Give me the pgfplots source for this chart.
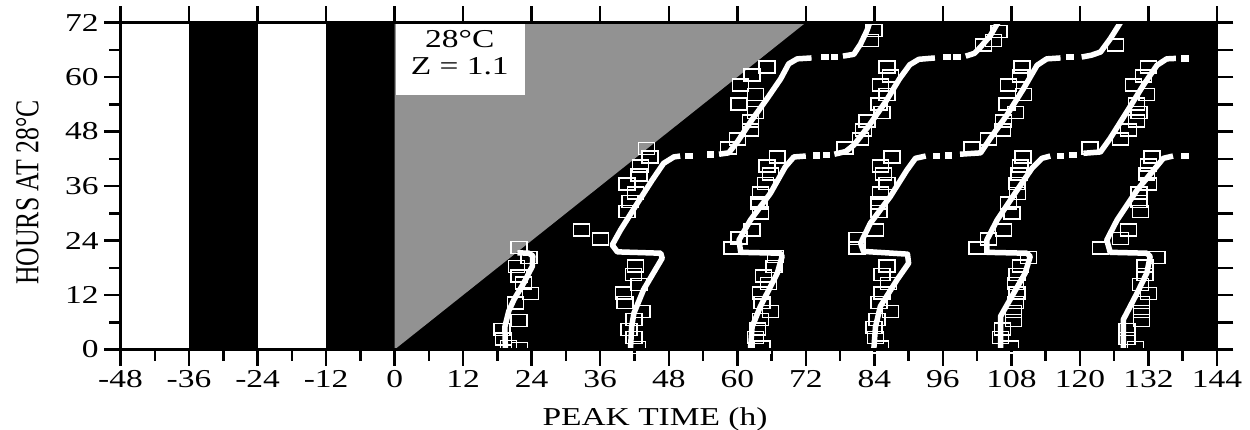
\documentclass[border=0pt]{standalone}
\usepackage{fontspec}
\setmainfont{Liberation Serif}
\usepackage{graphicx}
\usepackage{pgfplots}
\pgfplotsset{compat=1.18}
\definecolor{tri}{RGB}{146,146,146}
\pgfplotsset{
  obs/.style={only marks, mark=square, mark size=2.4pt, mark options={draw=white, line width=0.6pt, xscale=1.33}},
  mdl/.style={white, line width=2.2pt, line join=round, no markers},
  mdot/.style={only marks, mark=square*, mark size=1.1pt, mark options={white, xscale=1.2}},
}
\pgfplotstableread{
x y
21.8 22.5
23.5 20.3
21.35 18.3
21.8 16.2
22.6 14.6
23.8 12.3
21.2 10.2
21.8 6.4
18.8 4.4
19.1 2.3
21.9 0.2
19.9 0.7
44.1 44.3
44.7 42.4
43.05 40.4
42.8 38.4
40.7 36.4
42.2 34.5
41.2 32.6
40.7 30.4
32.7 26.3
36.05 24.3
42.2 18.4
41.8 16.5
42.8 14.3
40.1 12.4
40.3 10.4
43.3 8.4
41.9 6.6
41.0 4.4
41.9 2.6
42.5 0.4
67.0 42.4
65.2 40.4
65.8 38.6
64.9 36.6
64.05 34.5
63.8 32.3
64.05 30.1
62.6 26.3
60.3 24.5
59.1 22.3
66.7 20.5
66.4 18.3
64.6 16.2
65.5 14.5
64.05 12.4
64.35 10.4
65.8 8.4
64.05 6.6
63.5 4.5
63.2 2.6
64.35 0.6
87.1 42.4
85.05 40.4
85.6 38.6
86.2 36.6
85.05 34.5
84.8 32.3
84.8 30.4
84.2 26.3
81.0 24.4
81.0 22.3
86.2 18.4
85.3 16.5
86.5 14.5
85.3 12.4
84.8 10.4
86.8 8.4
84.5 6.6
83.9 4.8
84.2 2.6
85.05 0.6
110.0 42.4
109.55 40.4
109.3 38.6
109.0 36.6
109.1 34.4
107.5 32.3
108.1 30.1
106.65 26.3
104.0 24.3
102.0 22.3
111.0 20.3
109.55 18.4
109.0 16.5
108.7 14.5
109.0 12.4
108.7 10.4
108.4 8.4
108.4 6.4
106.4 4.5
106.1 2.6
107.8 0.6
132.6 42.4
132.0 40.6
131.7 38.6
132.0 36.4
130.3 34.5
130.3 32.6
130.6 30.4
128.5 26.3
127.1 24.4
123.6 22.3
133.5 20.3
131.4 18.4
131.4 16.5
130.6 14.3
132.0 12.3
130.8 10.4
130.8 8.4
130.8 6.4
128.2 4.4
128.2 2.4
129.7 0.4
65.2 62.2
62.6 60.4
60.55 58.2
63.2 56.1
60.3 54.1
63.2 52.2
62.3 50.3
62.3 48.3
60.0 46.3
58.5 44.4
86.2 62.2
86.8 60.2
85.05 58.2
86.2 56.1
84.8 54.1
85.3 52.2
82.7 50.3
82.1 48.3
81.6 46.3
78.9 44.4
109.85 62.2
109.55 60.2
107.5 58.2
110.1 56.1
107.2 54.1
108.7 52.2
106.65 50.3
106.4 48.3
104.0 46.3
101.1 44.4
132.0 62.2
131.1 60.2
129.4 58.2
131.7 56.1
129.9 54.1
130.3 52.2
129.9 50.3
128.5 48.3
127.1 46.3
121.8 44.4
83.9 70.2
83.3 68.0
105.8 70.0
104.9 68.0
103.1 67.0
126.2 67.1
}\obsdata
\pgfplotstableread{
x y
51.5 42.6
55.3 42.9
75.4 64.4
77.0 64.4
73.9 42.7
75.6 42.8
96.7 64.4
98.5 64.4
94.9 42.6
97.0 42.7
118.3 64.4
116.6 42.6
118.8 42.8
138.4 64.1
138.4 42.6
}\dotdata
\begin{document}
\begin{tikzpicture}
\useasboundingbox (-48.2pt,-31.8pt) rectangle (451.8pt,139.8pt);
\begin{axis}[name=main, at={(0pt,0pt)}, anchor=south west, scale only axis,
  width=438.6pt, height=130.8pt,
  xmin=-48, xmax=144, ymin=0, ymax=72,
  axis on top,
  axis line style={line width=1.1pt},
  every tick/.style={line width=1pt, black},
  tick align=outside,
  major tick length=6.5pt, minor tick length=4.5pt,
  xtick={-48,-36,...,144},
  xticklabels={-48,-36,-24,-12,0,12,24,36,48,60,72,84,96,108,120,132,144},
  minor xtick={-42,-30,...,138},
  ytick={0,12,...,72},
  yticklabels={0,12,24,36,48,60,72},
  minor ytick={6,18,...,66},
  xtick pos=left, ytick pos=left,
  tick label style={font=\fontsize{10.3}{12}\selectfont, xscale=1.3},
  xticklabel style={inner sep=1.5pt},
  yticklabel style={inner sep=1.5pt},
]
\fill[black] (axis cs:-36,0) rectangle (axis cs:-24,72);
\fill[black] (axis cs:-12,0) rectangle (axis cs:144,72);
\fill[tri] (axis cs:0,0) -- (axis cs:0,72) -- (axis cs:72,72) -- cycle;
\fill[white] (axis cs:0.2,56) rectangle (axis cs:22.75,72);
\node[font=\fontsize{10.3}{12}\selectfont, inner sep=0pt] at (axis cs:11.4,68.4) {\scalebox{1.3}[1]{28°C}};
\node[font=\fontsize{10.3}{12}\selectfont, inner sep=0pt] at (axis cs:11.4,62.4) {\scalebox{1.3}[1]{Z = 1.1}};
% model curves
\addplot[mdl] coordinates {(19.4,0) (19.3,5) (20.0,8.5) (20.9,11.0) (22.6,14.6) (24.1,18.3) (24.2,20.6) (23.5,21.2) (21.5,21.3)};
\addplot[mdl] coordinates {(41.3,0) (41.5,5) (41.9,8) (43.6,13.2) (46.0,18.3) (46.85,20.1) (46.6,21.2) (39.0,21.5) (38.1,23.0) (39.55,26.3) (42.5,32.2) (45.1,37.3) (47.1,41.0) (48.9,42.4) (50.0,42.6)};
\addplot[mdl] coordinates {(56.8,43.0) (58.5,43.3) (60.0,45.7) (62.3,50.1) (65.2,55.2) (67.6,59.6) (69.0,62.9) (70.5,64.0) (73.0,64.2)};
\addplot[mdl] coordinates {(78.5,64.6) (80.4,65.0) (81.6,67.3) (82.7,70.2) (83.2,72)};
\addplot[mdl] coordinates {(62.3,0) (62.6,5) (64.05,9.5) (67.0,16.8) (67.85,20.5) (67.55,21.2) (60.6,21.4) (60.3,24.1) (62.3,28.5) (65.8,34.4) (68.4,40.2) (69.9,42.4) (72.0,42.6)};
\addplot[mdl] coordinates {(77.0,43.0) (79.0,43.6) (80.4,45) (83.0,49.2) (86.0,54.6) (88.4,59.6) (90.2,62.7) (91.8,63.9) (94.6,64.2)};
\addplot[mdl] coordinates {(100.0,64.6) (101.5,65.2) (102.6,66.6) (104.3,69.1) (105.5,71.7) (105.7,72)};
\addplot[mdl] coordinates {(83.9,0) (84.2,5) (85.05,9.5) (88.0,15.4) (90.0,19.0) (89.8,21.0) (82.1,21.6) (81.6,23.4) (83.3,27.8) (86.8,33.7) (89.7,39.5) (91.2,42.1) (93.0,42.6)};
\addplot[mdl] coordinates {(99.0,43.0) (102.6,43.3) (104.3,46.5) (107.2,51.6) (110.1,57.4) (112.5,62.6) (114.2,64.0) (116.6,64.2)};
\addplot[mdl] coordinates {(120.3,64.4) (122.0,64.8) (123.6,65.5) (125.3,68.4) (127.1,72)};
\addplot[mdl] coordinates {(106.1,0) (106.1,7.3) (108.4,12.4) (110.4,16.8) (111.3,20.5) (110.7,21.2) (103.7,21.4) (103.7,24.1) (105.5,28.5) (109.0,35.1) (111.6,39.9) (113.35,42.1) (114.8,42.6)};
\addplot[mdl] coordinates {(120.6,43.2) (123.6,43.5) (125.3,46.5) (128.2,52.3) (131.1,58.2) (133.5,62.6) (135.2,64.0) (136.8,64.1)};
\addplot[mdl] coordinates {(127.6,0) (127.6,6.6) (130.0,12.4) (131.7,16.8) (132.3,20.5) (131.7,21.2) (125.3,21.4) (124.7,24.1) (126.5,28.5) (130.0,35.1) (132.9,39.5) (134.6,42.1) (136.3,42.6)};
\addplot[mdot] table[x=x, y=y] {\dotdata};
\addplot[obs] table[x=x, y=y] {\obsdata};
\end{axis}
\begin{axis}[at={(0pt,0pt)}, anchor=south west, scale only axis,
  width=438.6pt, height=130.8pt,
  xmin=-48, xmax=144, ymin=0, ymax=72,
  axis on top,
  axis line style={line width=1.1pt},
  every tick/.style={line width=1pt, black},
  tick align=outside,
  major tick length=6.5pt,
  xtick={-48,-36,...,144}, ytick={0,6,...,72},
  xtick pos=right, ytick pos=right,
  xticklabels={}, yticklabels={},
]
\end{axis}
\node[anchor=base, font=\fontsize{10.3}{12}\selectfont, inner sep=0pt] at (213.8pt,-30.2pt) {\scalebox{1.3}[1]{PEAK TIME (h)}};
\node[rotate=90, anchor=base, font=\fontsize{10.3}{12}\selectfont, inner sep=0pt] at (-32.8pt,62.8pt) {\scalebox{1}[1.3]{HOURS AT 28°C}};
\end{tikzpicture}
\end{document}
